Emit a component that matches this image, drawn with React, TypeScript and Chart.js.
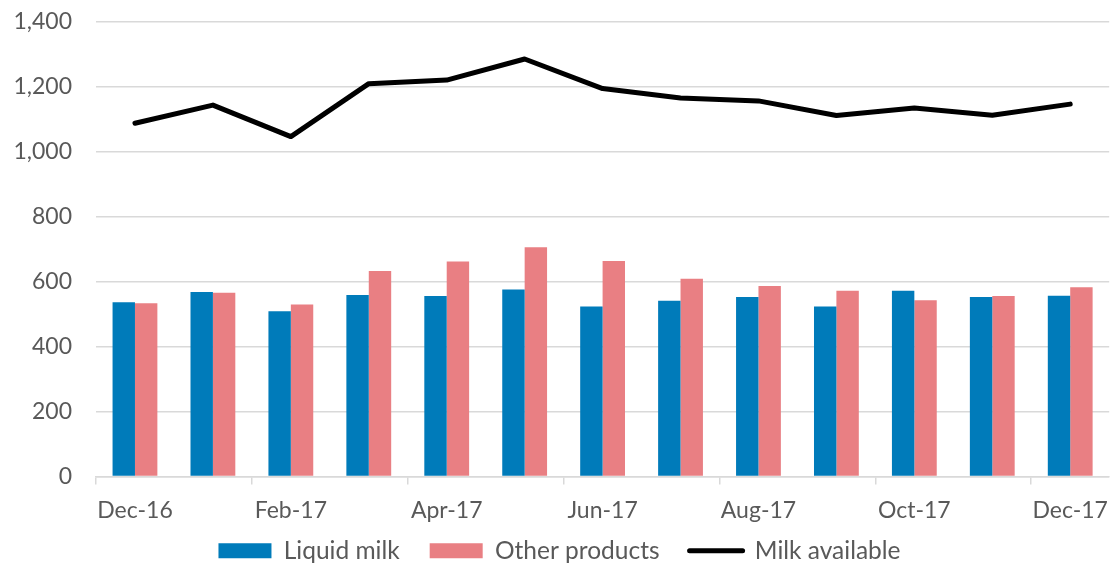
import React, { useEffect, useRef } from "react";
import { Chart, registerables } from "chart.js";

Chart.register(...registerables);

const categories = [
  "Dec-16", "Jan-17", "Feb-17", "Mar-17", "Apr-17", "May-17", "Jun-17",
  "Jul-17", "Aug-17", "Sep-17", "Oct-17", "Nov-17", "Dec-17",
];
const liquidMilk = [537, 568, 509, 559, 556, 576, 524, 541, 553, 524, 572, 553, 557];
const otherProducts = [534, 566, 530, 633, 662, 706, 664, 609, 587, 572, 543, 556, 583];
const milkAvailable = [1088, 1144, 1047, 1210, 1221, 1286, 1195, 1166, 1157, 1112, 1135, 1113, 1147];
const yTicks = [0, 200, 400, 600, 800, 1000, 1200, 1400];

const FONT = "Lato, 'Open Sans', sans-serif";
const TEXT = "#595959";
const GRID = "#d9d9d9";

export default function App() {
  const ref = useRef<HTMLCanvasElement | null>(null);

  useEffect(() => {
    if (!ref.current) return;
    const chart = new Chart(ref.current, {
      type: "bar",
      data: {
        labels: categories,
        datasets: [
          {
            type: "bar",
            label: "Liquid milk",
            data: liquidMilk,
            backgroundColor: "#007bba",
            borderWidth: 0,
            categoryPercentage: 0.575,
            barPercentage: 1,
          },
          {
            type: "bar",
            label: "Other products",
            data: otherProducts,
            backgroundColor: "#e97f83",
            borderWidth: 0,
            categoryPercentage: 0.575,
            barPercentage: 1,
          },
          {
            type: "line",
            label: "Milk available",
            data: milkAvailable,
            borderColor: "#000000",
            backgroundColor: "#000000",
            borderWidth: 5,
            pointRadius: 0,
            tension: 0,
            borderCapStyle: "round",
            borderJoinStyle: "round",
          } as any,
        ],
      },
      options: {
        responsive: false,
        animation: false,
        layout: { padding: { left: 0, right: 1, top: 22, bottom: -10 } },
        scales: {
          x: {
            offset: true,
            afterFit: (scale: any) => {
              scale.height = 32;
              scale._computeLabelArea = () => undefined;
            },
            grid: {
              offset: true,
              drawOnChartArea: false,
              drawTicks: true,
              tickLength: 8,
              lineWidth: 1.5,
              color: (ctx: any) => (ctx.index % 2 === 0 && ctx.index < categories.length ? GRID : "rgba(0,0,0,0)"),
            },
            border: { display: true, color: GRID, width: 1.5 },
            ticks: {
              autoSkip: false,
              maxRotation: 0,
              padding: 12,
              color: TEXT,
              font: { family: FONT, size: 23 },
              callback: (_v: any, i: number) => (i % 2 === 0 ? categories[i] : ""),
            },
          },
          y: {
            min: 0,
            max: 1400,
            afterBuildTicks: (scale: any) => {
              scale.ticks = yTicks.map((v) => ({ value: v }));
            },
            afterFit: (scale: any) => {
              scale.width = 96;
              scale.paddingTop = 0;
              scale.paddingBottom = 0;
            },
            grid: { color: GRID, lineWidth: 1.5, drawTicks: false },
            border: { display: false },
            ticks: {
              padding: 24,
              color: TEXT,
              font: { family: FONT, size: 23 },
              callback: (v: any) => Number(v).toLocaleString("en-US"),
            },
          },
        },
        plugins: {
          tooltip: { enabled: false },
          legend: {
            position: "bottom",
            labels: {
              color: TEXT,
              font: { family: FONT, size: 24.5 },
              usePointStyle: true,
              pointStyleWidth: 53,
              boxHeight: 15,
              padding: 30,
              generateLabels: (c: any) => {
                const items = (Chart.defaults.plugins.legend.labels as any).generateLabels(c);
                return items.map((it: any, i: number) => ({
                  ...it,
                  pointStyle: i === 2 ? "line" : "rect",
                  lineWidth: i === 2 ? 5 : 0,
                  strokeStyle: i === 2 ? "#000000" : it.fillStyle,
                  lineCap: "round",
                }));
              },
            },
          },
        },
      } as any,
    });
    return () => chart.destroy();
  }, []);

  return (
    <div style={{ position: "absolute", left: 0, top: 0, width: 1120, height: 563, background: "#fff" }}>
      <canvas ref={ref} width={1120} height={563} style={{ display: "block" }} />
    </div>
  );
}
